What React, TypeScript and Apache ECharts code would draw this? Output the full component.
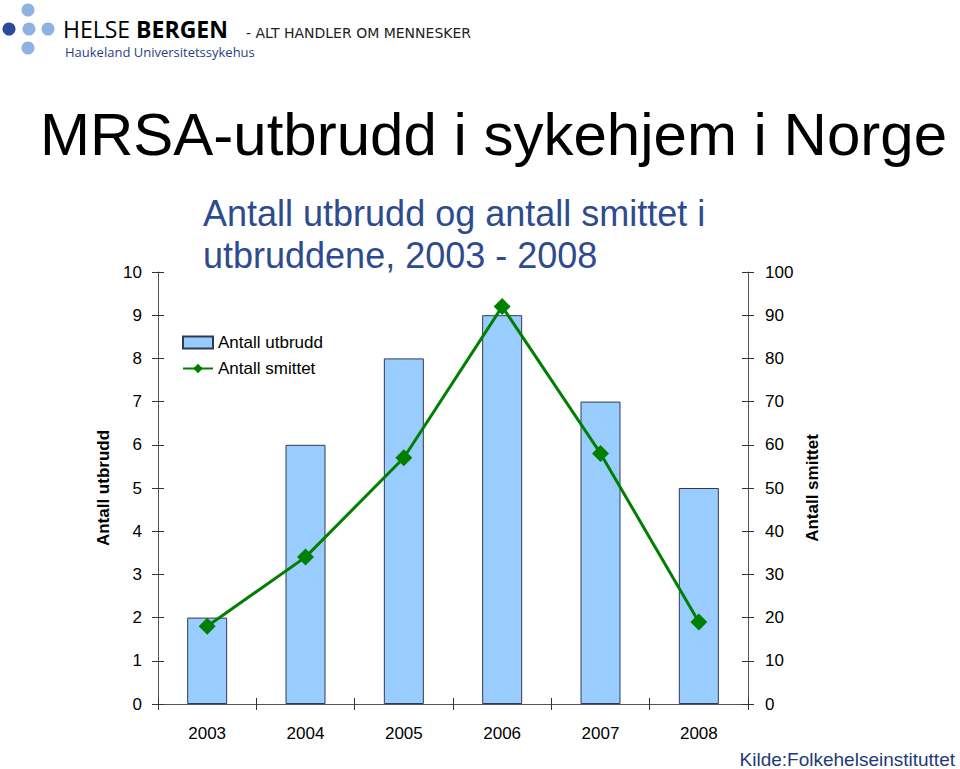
import React, { useEffect, useRef } from "react";
import * as echarts from "echarts";

const years = ["2003", "2004", "2005", "2006", "2007", "2008"];
const outbreaks = [2, 6, 8, 9, 7, 5];
const infected = [18, 34, 57, 92, 58, 19];
const leftTicks = { min: 0, max: 10, interval: 1 };
const rightTicks = { min: 0, max: 100, interval: 10 };

const FONT = "'Liberation Sans', Arial, sans-serif";
const BLUE = "#2d4b8e";

export default function App() {
  const ref = useRef<HTMLDivElement>(null);
  useEffect(() => {
    document.body.style.margin = "0";
    const chart = echarts.init(ref.current!, null, { renderer: "svg" });
    const axisLabel = { color: "#000", fontSize: 17, fontFamily: FONT };
    const lineStyle = { color: "#555", width: 1 };
    const tickStyle = { color: "#333", width: 1 };
    chart.setOption({
      animation: false,
      backgroundColor: "#fff",
      textStyle: { fontFamily: FONT },
      grid: { left: 158, right: 212, top: 272, bottom: 65 },
      legend: {
        orient: "vertical",
        left: 177,
        top: 329,
        itemWidth: 30,
        itemHeight: 12,
        itemGap: 9,
        textStyle: { fontSize: 17, color: "#000", fontFamily: FONT },
        data: [
          { name: "Antall utbrudd", icon: "rect" },
          { name: "Antall smittet" },
        ],
      },
      xAxis: [
        {
          type: "category",
          data: years,
          axisLine: { lineStyle },
          axisTick: { show: true, length: 6, lineStyle: tickStyle },
          axisLabel: { ...axisLabel, margin: 21 },
        },
        {
          type: "category",
          data: years,
          position: "bottom",
          axisLine: { show: false },
          axisTick: { show: true, inside: true, length: 6, lineStyle: tickStyle },
          axisLabel: { show: false },
        },
      ],
      yAxis: [
        {
          type: "value",
          ...leftTicks,
          position: "left",
          name: "Antall utbrudd",
          nameLocation: "middle",
          nameGap: 46,
          nameRotate: 90,
          nameTextStyle: { fontSize: 17, fontWeight: "bold", color: "#000", fontFamily: FONT },
          axisLine: { show: true, lineStyle },
          axisTick: { show: true, length: 6, lineStyle: tickStyle },
          axisLabel: { ...axisLabel, margin: 16 },
          splitLine: { show: false },
        },
        {
          type: "value",
          ...rightTicks,
          position: "right",
          name: "Antall smittet",
          nameLocation: "middle",
          nameGap: 50,
          nameRotate: 90,
          nameTextStyle: { fontSize: 17, fontWeight: "bold", color: "#000", fontFamily: FONT },
          axisLine: { show: true, lineStyle },
          axisTick: { show: true, length: 6, lineStyle: tickStyle },
          axisLabel: { ...axisLabel, margin: 17 },
          splitLine: { show: false },
        },
        {
          type: "value",
          ...leftTicks,
          position: "left",
          axisLine: { show: false },
          axisTick: { show: true, inside: true, length: 6, lineStyle: tickStyle },
          axisLabel: { show: false },
          splitLine: { show: false },
        },
        {
          type: "value",
          ...rightTicks,
          position: "right",
          axisLine: { show: false },
          axisTick: { show: true, inside: true, length: 6, lineStyle: tickStyle },
          axisLabel: { show: false },
          splitLine: { show: false },
        },
      ],
      series: [
        {
          name: "Antall utbrudd",
          type: "bar",
          data: outbreaks,
          barWidth: 40,
          itemStyle: { color: "#99ccff", borderColor: "#2f3b55", borderWidth: 1 },
        },
        {
          name: "Antall smittet",
          type: "line",
          yAxisIndex: 1,
          data: infected,
          symbol: "diamond",
          symbolSize: 17,
          lineStyle: { color: "#008000", width: 3 },
          itemStyle: { color: "#008000" },
          z: 5,
        },
      ],
      graphic: [
        { type: "circle", shape: { cx: 9, cy: 29, r: 6.5 }, style: { fill: "#2b4a9a" } },
        { type: "circle", shape: { cx: 29, cy: 29, r: 6.5 }, style: { fill: "#8fb3e0" } },
        { type: "circle", shape: { cx: 48, cy: 29, r: 6.5 }, style: { fill: "#8fb3e0" } },
        { type: "circle", shape: { cx: 28, cy: 10, r: 6.5 }, style: { fill: "#8fb3e0" } },
        { type: "circle", shape: { cx: 28, cy: 48, r: 6.5 }, style: { fill: "#8fb3e0" } },
        {
          type: "text",
          x: 63,
          y: 29,
          style: {
            text: "{a|HELSE }{b|BERGEN}",
            verticalAlign: "middle",
            rich: {
              a: { fontSize: 23, fontFamily: "'Open Sans', sans-serif", color: "#2b3f7f", lineHeight: 20 },
              b: { fontSize: 23, fontWeight: "bold", fontFamily: "'Open Sans', sans-serif", color: "#2b3f7f", lineHeight: 20 },
            },
          },
        },
        {
          type: "text",
          x: 65,
          y: 52,
          style: {
            text: "Haukeland Universitetssykehus",
            fontSize: 13,
            fontFamily: "'Open Sans', sans-serif",
            fill: "#2b3f7f",
            verticalAlign: "middle",
          },
        },
        {
          type: "text",
          x: 246,
          y: 33,
          style: {
            text: "- ALT HANDLER OM MENNESKER",
            fontSize: 14,
            fontFamily: "'DejaVu Sans', sans-serif",
            fontWeight: "normal",
            fill: "#222",
            verticalAlign: "middle",
          },
        },
        {
          type: "text",
          x: 40,
          y: 134,
          style: {
            text: "MRSA-utbrudd i sykehjem i Norge",
            fontSize: 60,
            fontFamily: FONT,
            fill: "#000",
            verticalAlign: "middle",
          },
        },
        {
          type: "text",
          x: 203,
          y: 213,
          style: {
            text: "Antall utbrudd og antall smittet i",
            fontSize: 36,
            fontFamily: FONT,
            fill: BLUE,
            verticalAlign: "middle",
          },
        },
        {
          type: "text",
          x: 203,
          y: 255,
          style: {
            text: "utbruddene, 2003 - 2008",
            fontSize: 36,
            fontFamily: FONT,
            fill: BLUE,
            verticalAlign: "middle",
          },
        },
        {
          type: "text",
          x: 955,
          y: 759,
          style: {
            text: "Kilde:Folkehelseinstituttet",
            fontSize: 19,
            fontFamily: FONT,
            fill: "#1f3a78",
            align: "right",
            verticalAlign: "middle",
          },
        },
      ],
    });
    return () => chart.dispose();
  }, []);
  return <div ref={ref} style={{ position: "absolute", left: 0, top: 0, width: 960, height: 769 }} />;
}
